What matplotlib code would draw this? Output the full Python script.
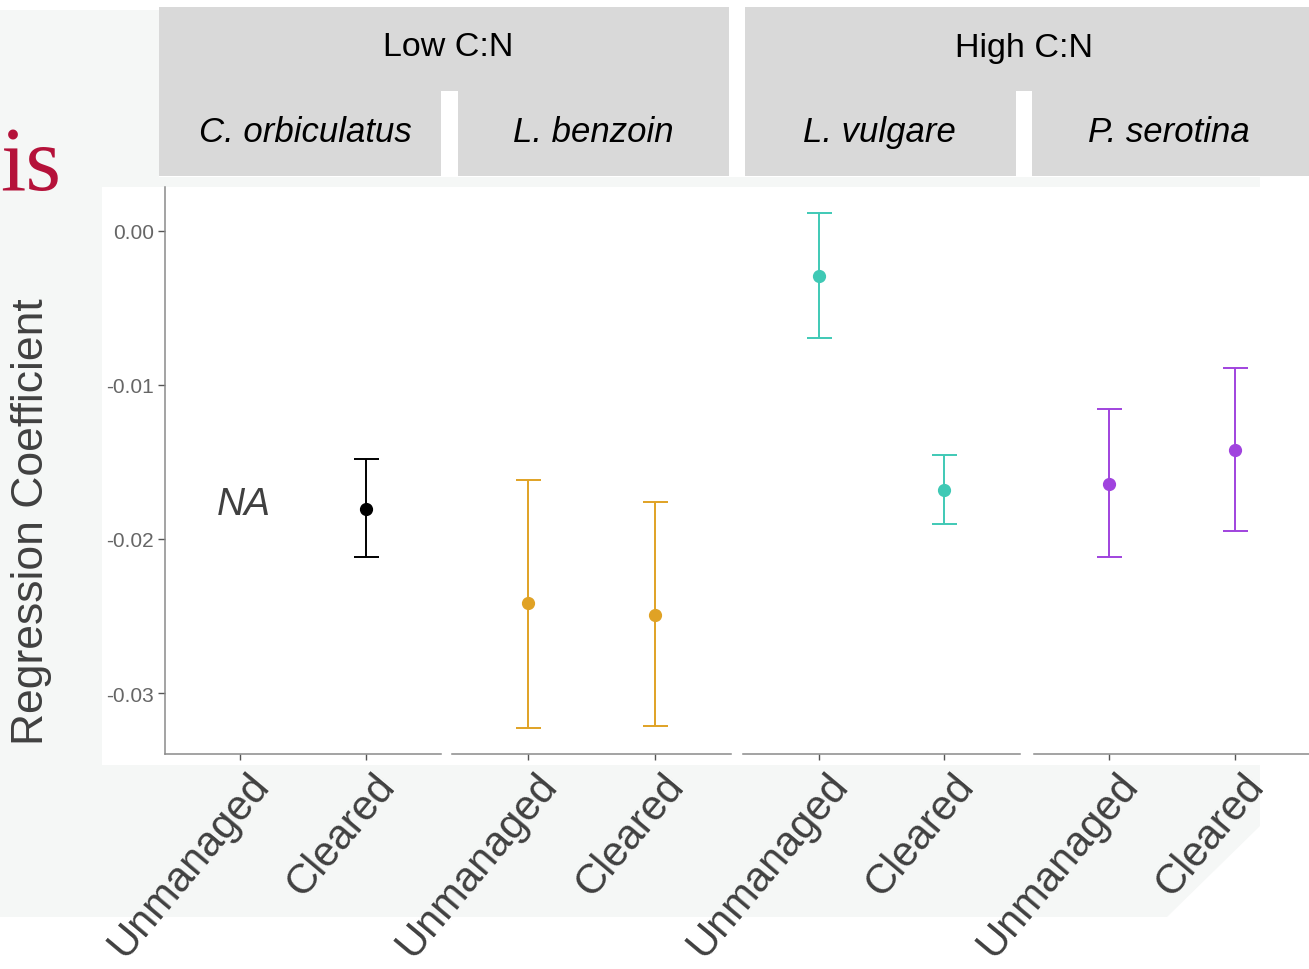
import matplotlib.pyplot as plt
import numpy as np
from matplotlib.patches import Rectangle, Polygon
from matplotlib.transforms import ScaledTranslation

plt.rcParams['font.family'] = ['Liberation Sans', 'DejaVu Sans']

# regression coefficients by species and management, with interval bounds
species = ["C. orbiculatus", "L. benzoin", "L. vulgare", "P. serotina"]
cn_group = ["Low C:N", "High C:N"]
treatments = ["Unmanaged", "Cleared"]
colors = ["#000000", "#E0A225", "#3FC9B5", "#A043DE"]

coef_unmanaged = [np.nan, -0.02416, -0.00292, -0.01643]
lo_unmanaged = [np.nan, -0.03227, -0.00695, -0.02117]
hi_unmanaged = [np.nan, -0.01617, 0.00117, -0.01156]

coef_cleared = [-0.01805, -0.02494, -0.01682, -0.01422]
lo_cleared = [-0.02117, -0.03214, -0.01903, -0.01948]
hi_cleared = [-0.01481, -0.01760, -0.01455, -0.00890]

yticks = [0.0, -0.01, -0.02, -0.03]
ytick_labels = ["0.00", "-0.01", "-0.02", "-0.03"]

W, H = 1309, 970
fig = plt.figure(figsize=(W / 100, H / 100), dpi=100)
fig.patch.set_facecolor("white")


def fx(x):
    return x / W


def fy(y):
    return 1 - y / H


def rect(x0, y0, x1, y1, color, z):
    fig.add_artist(Rectangle((fx(x0), fy(y1)), fx(x1) - fx(x0), fy(y0) - fy(y1),
                             transform=fig.transFigure, facecolor=color,
                             edgecolor="none", zorder=z))


# slide background pieces
pts = [(0, 11), (1260, 11), (1260, 827), (1167, 918), (0, 918)]
fig.add_artist(Polygon([(fx(a), fy(b)) for a, b in pts], closed=True,
                       transform=fig.transFigure, facecolor="#F5F7F6",
                       edgecolor="none", zorder=-10))
rect(159, 0, 1309, 178, "white", -9)
rect(102, 188, 1309, 766, "white", -9)

# facet strips
strip_grey = "#D9D9D9"
top_strips = [(159, 729), (745, 1309)]
top_nudge = [4, -3]
sub_strips = [(159, 441), (458, 729), (745, 1016), (1032, 1309)]
sub_nudge = [5, 0, -1, -2]
for (a, b), lab, d in zip(top_strips, cn_group, top_nudge):
    rect(a, 8, b, 92, strip_grey, -8)
    fig.text(fx((a + b) / 2 + d), fy(48), lab, ha="center", va="center",
             fontsize=24.5, color="black")
for (a, b), lab, d in zip(sub_strips, species, sub_nudge):
    rect(a, 92, b, 177, strip_grey, -8)
    fig.text(fx((a + b) / 2 + d), fy(133), lab, ha="center", va="center",
             fontsize=25, style="italic", color="black")

# slide title fragment
fig.text(fx(0), fy(190), "is", ha="left", va="baseline", fontsize=66,
         family="Liberation Serif", color="#B5123A")

panels = [(165, 441), (452, 731), (743, 1020), (1034, 1310)]
ytop, ybot = 188, 755
spine_col = "#8A8A8A"
x = np.array([1, 2])

for i, (a, b) in enumerate(panels):
    ax = fig.add_axes([fx(a), fy(ybot), fx(b) - fx(a), fy(ytop) - fy(ybot)])
    ax.set_facecolor("none")
    ax.set_xlim(0.4, 2.6)
    ax.set_ylim(-0.033961, 0.002857)

    y = np.array([coef_unmanaged[i], coef_cleared[i]])
    lo = np.array([lo_unmanaged[i], lo_cleared[i]])
    hi = np.array([hi_unmanaged[i], hi_cleared[i]])
    ok = ~np.isnan(y)
    ax.errorbar(x[ok], y[ok], yerr=[y[ok] - lo[ok], hi[ok] - y[ok]], fmt="o",
                color=colors[i], ms=8.5, elinewidth=1.4, capsize=9, capthick=1.4)
    if not ok[0]:
        ax.text(1.03, -0.01773, "NA", ha="center", va="center", style="italic",
                fontsize=28, color="#404040")

    for s in ["top", "right"]:
        ax.spines[s].set_visible(False)
    ax.spines["bottom"].set_color(spine_col)
    ax.spines["bottom"].set_linewidth(1.1)
    if i == 0:
        ax.spines["left"].set_color(spine_col)
        ax.spines["left"].set_linewidth(1.1)
        ax.set_yticks(yticks)
        ax.set_yticklabels(ytick_labels)
        ax.tick_params(axis="y", length=5, width=1, color="#555555",
                       labelsize=15, labelcolor="#666666", pad=3)
    else:
        ax.spines["left"].set_visible(False)
        ax.set_yticks([])

    ax.set_xticks(x)
    ax.set_xticklabels(treatments, rotation=50, ha="right", va="top",
                       rotation_mode="anchor", fontsize=30, color="#404040")
    ax.tick_params(axis="x", length=4, width=1, color="#555555", pad=4)
    shift = ScaledTranslation(0.07, 0.0, fig.dpi_scale_trans)
    for lbl in ax.get_xticklabels():
        lbl.set_transform(lbl.get_transform() + shift)

fig.text(fx(32), fy(522), "Regression Coefficient", rotation=90,
         ha="center", va="center", fontsize=32, color="#404040")

fig.savefig("out.png", dpi=100)
